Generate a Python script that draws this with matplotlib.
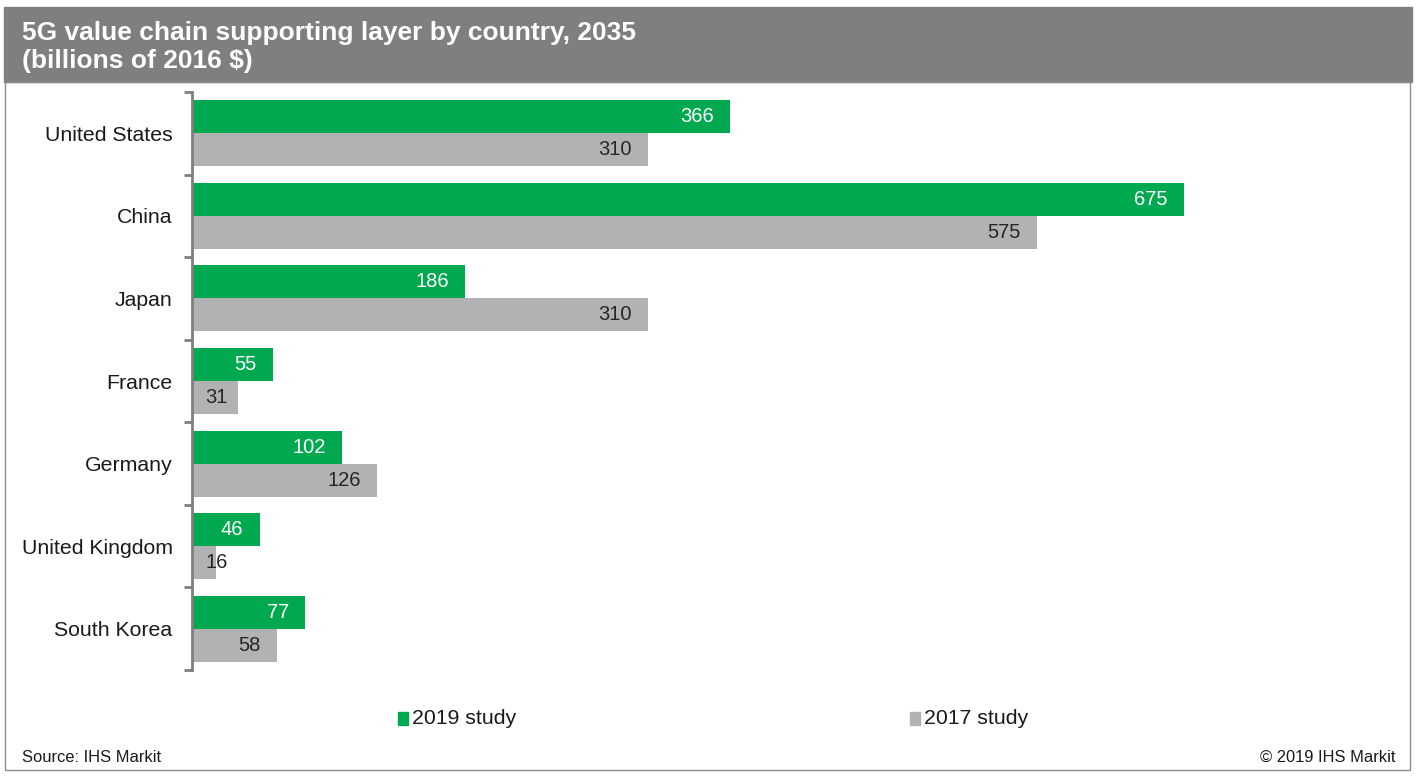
import numpy as np
import matplotlib.pyplot as plt
from matplotlib.patches import Rectangle

plt.rcParams['font.family'] = ['Liberation Sans', 'DejaVu Sans']

# Chart data
countries = ['United States', 'China', 'Japan', 'France', 'Germany',
             'United Kingdom', 'South Korea']
study_2019 = [366, 675, 186, 55, 102, 46, 77]
study_2017 = [310, 575, 310, 31, 126, 16, 58]
series_names = ['2019 study', '2017 study']

green = '#00a94f'
grey = '#b1b2b4'
band = '#7f7f7f'

W, H = 1416, 777
fig = plt.figure(figsize=(W / 100, H / 100), dpi=100)

# header band and outer frame
fig.patches.append(Rectangle((4 / W, 1 - 82 / H), 1408 / W, 75 / H,
                             transform=fig.transFigure, color=band, zorder=0))
fig.patches.append(Rectangle((5 / W, 1 - 770 / H), 1405 / W, 688 / H,
                             transform=fig.transFigure, fill=False,
                             edgecolor='#8c8c8c', lw=1, zorder=0))
fig.text(22 / W, 1 - 47 / H,
         '5G value chain supporting layer by country, 2035\n(billions of 2016 $)',
         color='white', fontsize=19, fontweight='bold', va='center',
         ha='left', linespacing=1.25)

# axes: 0 at x=192px, 675 at x=1184px
px_per_unit = (1184 - 192) / 675
xmax = 800
left = 192 / W
width = xmax * px_per_unit / W
ax = fig.add_axes([left, 1 - 670 / H, width, (670 - 92) / H])

n = len(countries)
y = np.arange(n)
h = 0.4
ax.barh(y - h / 2, study_2019, height=h, color=green, label=series_names[0])
ax.barh(y + h / 2, study_2017, height=h, color=grey, label=series_names[1])

for yi, v in zip(y, study_2019):
    ax.text(max(v - 11, 24.5), yi - h / 2, str(v), ha='right', va='center',
            color='white', fontsize=14.5)
for yi, v in zip(y, study_2017):
    ax.text(max(v - 11, 24.5), yi + h / 2, str(v), ha='right', va='center',
            color='#262626', fontsize=14.5)

ax.set_xlim(0, xmax)
ax.set_ylim(n - 0.5, -0.5)
ax.set_yticks(y)
ax.set_yticklabels(countries, fontsize=15.3, color='#1a1a1a')
ax.tick_params(axis='y', which='major', length=0, pad=14)
ax.set_yticks(np.arange(n + 1) - 0.5, minor=True)
ax.tick_params(axis='y', which='minor', length=6, width=2, color='#7f7f7f')
ax.set_xticks([])
for s in ['top', 'right', 'bottom']:
    ax.spines[s].set_visible(False)
ax.spines['left'].set_color('#7f7f7f')
ax.spines['left'].set_linewidth(2)

# legend
fig.patches.append(Rectangle((398 / W, 1 - 725 / H), 10 / W, 13 / H,
                             transform=fig.transFigure, color=green))
fig.text(412 / W, 1 - 718 / H, series_names[0], fontsize=15.3, va='center',
         ha='left', color='#1a1a1a')
fig.patches.append(Rectangle((910 / W, 1 - 725 / H), 10 / W, 13 / H,
                             transform=fig.transFigure, color=grey))
fig.text(924 / W, 1 - 718 / H, series_names[1], fontsize=15.3, va='center',
         ha='left', color='#1a1a1a')

# footer
fig.text(22 / W, 1 - 757 / H, 'Source: IHS Markit', fontsize=11.9,
         va='center', ha='left', color='#1a1a1a')
fig.text(1396 / W, 1 - 757 / H, '\u00a9 2019 IHS Markit', fontsize=11.9,
         va='center', ha='right', color='#1a1a1a')

fig.savefig('out.png', dpi=100)
